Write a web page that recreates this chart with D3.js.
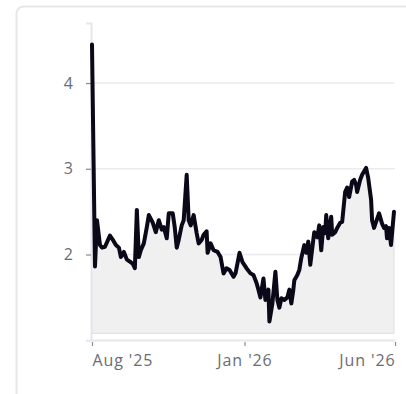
<!DOCTYPE html>
<html>
<head>
<meta charset="utf-8">
<script src="https://cdn.jsdelivr.net/npm/d3@7"></script>
<style>
  html, body { margin: 0; padding: 0; background: #fff; }
  svg { display: block; }
  text { font-family: "Open Sans", "Noto Sans", sans-serif; }
</style>
</head>
<body>
<svg id="chart" width="406" height="394"></svg>
<script>
const dates = [
  "2025-08-01","2025-08-04","2025-08-06","2025-08-09","2025-08-11","2025-08-14","2025-08-19","2025-08-22",
  "2025-08-25","2025-08-28","2025-08-30","2025-09-02","2025-09-05","2025-09-09","2025-09-11","2025-09-13",
  "2025-09-15","2025-09-17","2025-09-19","2025-09-22","2025-09-25","2025-09-27","2025-10-01","2025-10-04",
  "2025-10-07","2025-10-10","2025-10-12","2025-10-15","2025-10-17","2025-10-21","2025-10-23","2025-10-25",
  "2025-10-27","2025-10-30","2025-11-01","2025-11-04","2025-11-06","2025-11-08","2025-11-11","2025-11-14",
  "2025-11-16","2025-11-19","2025-11-21","2025-11-24","2025-11-25","2025-11-28","2025-12-01","2025-12-05",
  "2025-12-08","2025-12-11","2025-12-14","2025-12-17","2025-12-21","2025-12-23","2025-12-27","2025-12-30",
  "2026-01-03","2026-01-07","2026-01-10","2026-01-13","2026-01-15","2026-01-17","2026-01-20","2026-01-22",
  "2026-01-25","2026-01-26","2026-01-29","2026-02-01","2026-02-03","2026-02-05","2026-02-07","2026-02-10",
  "2026-02-13","2026-02-15","2026-02-17","2026-02-19","2026-02-20","2026-02-23","2026-02-25","2026-02-27",
  "2026-03-02","2026-03-04","2026-03-06","2026-03-08","2026-03-11","2026-03-12","2026-03-15","2026-03-17",
  "2026-03-19","2026-03-21","2026-03-23","2026-03-24","2026-03-26","2026-03-29","2026-03-30","2026-04-02",
  "2026-04-04","2026-04-07","2026-04-09","2026-04-12","2026-04-14","2026-04-16","2026-04-19","2026-04-21",
  "2026-04-23","2026-04-24","2026-04-27","2026-04-29","2026-05-03","2026-05-05","2026-05-08","2026-05-09",
  "2026-05-11","2026-05-13","2026-05-16","2026-05-19","2026-05-21","2026-05-23","2026-05-24","2026-05-26",
  "2026-05-28","2026-05-31"
];
const values = [
  4.45,1.86,2.40,2.11,2.08,2.09,2.22,2.17,
  2.11,2.08,1.97,2.03,1.94,1.91,1.89,1.84,
  2.52,1.97,2.05,2.13,2.32,2.46,2.37,2.26,
  2.40,2.29,2.32,2.19,2.48,2.48,2.32,2.08,
  2.17,2.34,2.40,2.93,2.40,2.34,2.46,2.25,
  2.13,2.17,2.23,2.27,2.02,2.13,2.05,2.03,
  1.97,1.78,1.84,1.82,1.74,1.78,2.02,1.91,
  1.84,1.78,1.76,1.67,1.59,1.50,1.72,1.47,
  1.59,1.22,1.43,1.80,1.47,1.38,1.49,1.47,
  1.50,1.59,1.43,1.59,1.70,1.76,1.82,1.96,
  2.11,2.02,2.15,1.88,2.17,2.26,2.20,2.34,
  2.05,2.32,2.25,2.46,2.19,2.44,2.23,2.26,
  2.31,2.37,2.38,2.73,2.78,2.67,2.85,2.87,
  2.81,2.73,2.87,2.93,3.01,2.90,2.64,2.40,
  2.31,2.38,2.48,2.36,2.31,2.33,2.19,2.31,
  2.11,2.50
];
const yTicks = [2, 3, 4];
const xTickDates = ["2025-08-01", "2026-01-01", "2026-06-01"];
const xTickLabels = ["Aug '25", "Jan '26", "Jun '26"];
const xDomain = ["2025-08-01", "2026-06-01"];
const yDomain = [1.0, 4.7];
const areaBase = 1.08;

const parse = d3.utcParse("%Y-%m-%d");
const data = dates.map((d, i) => ({ date: parse(d), value: values[i] }));

const svg = d3.select("#chart");
const FONT = "'Open Sans', 'Noto Sans', sans-serif";

// card frame
svg.append("rect")
  .attr("x", 16.5).attr("y", 6.5)
  .attr("width", 600).attr("height", 600)
  .attr("rx", 7)
  .attr("fill", "none")
  .attr("stroke", "#e7e7e9")
  .attr("stroke-width", 2);

const x = d3.scaleUtc().domain(xDomain.map(parse)).range([92, 395]);
const y = d3.scaleLinear().domain(yDomain).range([340.25, 23]);

// gridlines
svg.append("g").selectAll("line")
  .data(yTicks)
  .join("line")
  .attr("x1", 91).attr("x2", 395)
  .attr("y1", d => y(d)).attr("y2", d => y(d))
  .attr("stroke", "#e9ebee")
  .attr("stroke-width", 1.5);

// area
const area = d3.area()
  .x(d => x(d.date))
  .y0(y(areaBase))
  .y1(d => y(d.value));
svg.append("path")
  .datum(data)
  .attr("d", area)
  .attr("fill", "#f0f0f1")
  .attr("stroke", "#e3e3e6")
  .attr("stroke-width", 1.2);

// y axis
const yAxis = svg.append("g")
  .attr("transform", "translate(91,0)")
  .call(d3.axisLeft(y).tickValues(yTicks).tickSize(5).tickPadding(13).tickFormat(d3.format("d")));
yAxis.select(".domain").attr("stroke", "#e5e7eb").attr("stroke-width", 2);
yAxis.selectAll(".tick line").attr("stroke", "#8a8a94").attr("stroke-width", 1.2);
yAxis.selectAll(".tick text")
  .attr("fill", "#6b6b76")
  .attr("font-size", 16)
  .attr("font-family", FONT);

// x axis
const xAxis = svg.append("g")
  .attr("transform", "translate(0,340)")
  .call(d3.axisBottom(x)
    .tickValues(xTickDates.map(parse))
    .tickSize(6)
    .tickSizeOuter(0)
    .tickPadding(9)
    .tickFormat((d, i) => xTickLabels[i]));
xAxis.select(".domain").attr("stroke", "#e5e7eb").attr("stroke-width", 2);
xAxis.selectAll(".tick line").attr("stroke", "#8a8a94").attr("stroke-width", 1.2).attr("y1", 2);
xAxis.selectAll(".tick text")
  .attr("fill", "#6b6b76")
  .attr("font-size", 16)
  .attr("letter-spacing", "0.9px")
  .attr("font-family", FONT)
  .attr("text-anchor", (d, i) => i === 0 ? "start" : (i === xTickDates.length - 1 ? "end" : "middle"));

// line
const line = d3.line()
  .x(d => x(d.date))
  .y(d => y(d.value));
svg.append("path")
  .datum(data)
  .attr("d", line)
  .attr("fill", "none")
  .attr("stroke", "#0b0818")
  .attr("stroke-width", 4)
  .attr("stroke-linejoin", "round")
  .attr("stroke-linecap", "round");
</script>
</body>
</html>
